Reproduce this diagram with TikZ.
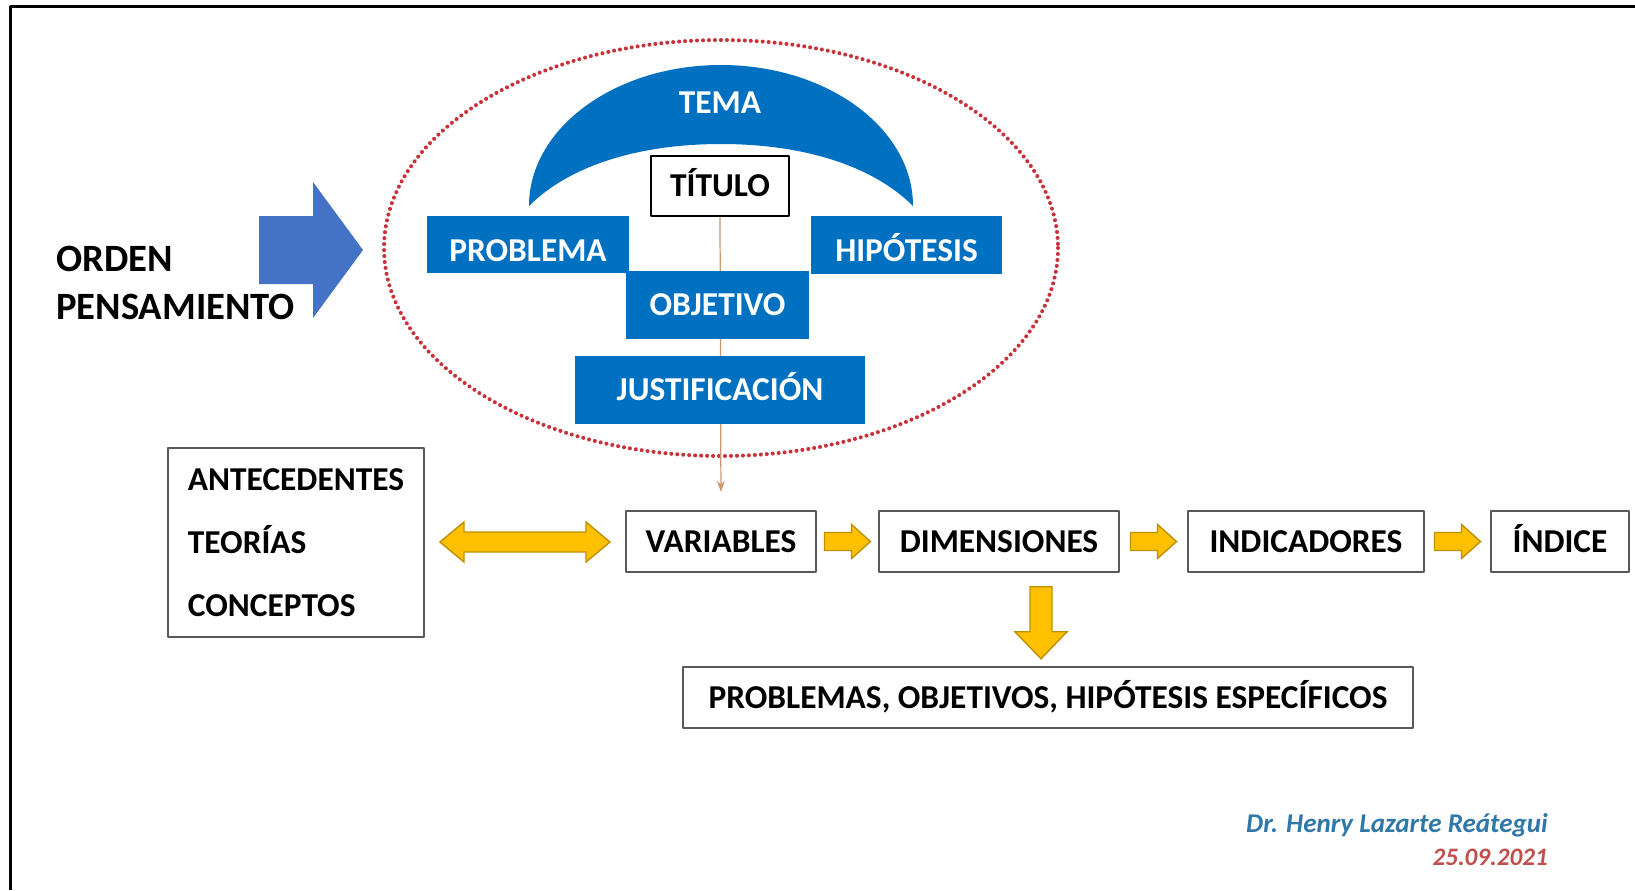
\documentclass[tikz,border=0pt]{standalone}
\usepackage{fontspec}
\setmainfont{Carlito}
\usetikzlibrary{arrows.meta,calc}
\definecolor{azul}{HTML}{0070C0}
\definecolor{azulflecha}{HTML}{4472C4}
\definecolor{oro}{HTML}{FFC000}
\definecolor{ororim}{HTML}{BF9000}
\definecolor{gris}{HTML}{595959}
\definecolor{punto}{HTML}{C8323A}
\definecolor{cafe}{HTML}{C8976A}
\definecolor{firma}{HTML}{2F78A8}
\definecolor{rojofecha}{HTML}{C0504D}

\tikzset{
  bluebox/.style={fill=azul,text=white,inner sep=0pt,text height=12.2pt,text depth=0pt,
    font=\fontsize{19}{22}\selectfont\bfseries},
  whitebox/.style={draw=gris,line width=1.4pt,fill=white,inner sep=0pt,text height=12.2pt,text depth=0pt,
    font=\fontsize{19}{22}\selectfont\bfseries},
  yarrow/.style={fill=oro,draw=ororim,line width=.8pt,line join=miter},
  hflecha/.pic={\draw[yarrow] (-23,-9) -- (4,-9) -- (4,-17) -- (23,0) -- (4,17) -- (4,9) -- (-23,9) -- cycle;},
  vflecha/.pic={\draw[yarrow] (-11,-72) -- (11,-72) -- (11,-27) -- (26,-27) -- (0,0) -- (-26,-27) -- (-11,-27) -- cycle;},
  dflecha/.pic={\draw[yarrow] (-85,0) -- (-61,-20) -- (-61,-10) -- (61,-10) -- (61,-20) -- (85,0)
    -- (61,20) -- (61,10) -- (-61,10) -- (-61,20) -- cycle;}
}

\begin{document}
\begin{tikzpicture}[x=0.02cm,y=-0.02cm,line join=round]
  \path[use as bounding box] (0,0) rectangle (1635,890);
  \fill[white] (0,0) rectangle (1635,890);
  \draw[line width=1.5pt] (10.5,890) -- (10.5,6.7) -- (1635,6.7);

  % Dotted ring round the core of the research plan.
  \draw[punto,line width=2.3pt,line cap=round,dash pattern=on 0pt off 3.4pt] (721,248) ellipse (337 and 208);

  % Crescent of the theme.
  \fill[azul] (529,206) arc[start angle=180,end angle=360,x radius=192,y radius=141]
    .. controls (872,165) and (802,144) .. (721,144)
    .. controls (640,144) and (570,165) .. cycle;
  \node[text=white,font=\fontsize{19}{22}\selectfont\bfseries] (tema) at (720,103) {TEMA};

  % Block arrow and its caption on the left.
  \fill[azulflecha] (259,216) -- (313,216) -- (313,182) -- (363,250) -- (313,318) -- (313,284) -- (259,284) -- cycle;
  \node[anchor=west,align=left,font=\fontsize{22}{27}\selectfont\bfseries] (orden) at (50,283) {ORDEN\\PENSAMIENTO};

  \node[whitebox,draw=black,line width=1pt,minimum width=2.76cm,minimum height=1.2cm] (titulo) at (720,186) {TÍTULO};
  \node[whitebox,minimum width=3.8cm,minimum height=1.22cm] (variables) at (721,541.5) {VARIABLES};

  % Thin guide line from the title down to the variables, behind the blue boxes.
  \draw[cafe,line width=.7pt,-{Stealth[length=2.2mm,width=1.6mm]},shorten >=0.36cm] (titulo.south) -- (variables.north);

  \node[bluebox,text height=19pt,minimum width=4.04cm,minimum height=1.14cm] (problema) at (528,244.5) {PROBLEMA};
  \node[bluebox,text height=19pt,minimum width=3.82cm,minimum height=1.16cm] (hipotesis) at (906.5,245) {HIPÓTESIS};
  \node[bluebox,minimum width=3.66cm,minimum height=1.36cm] (objetivo) at (717.5,305) {OBJETIVO};
  \node[bluebox,minimum width=5.8cm,minimum height=1.36cm] (justificacion) at (720,390) {JUSTIFICACIÓN};

  % Chain of the operational terms.
  \node[whitebox,text height=,text depth=,minimum width=5.12cm,minimum height=3.78cm,align=left,
    font=\fontsize{19}{36}\selectfont\bfseries] (antecedentes) at (296,542.5) {ANTECEDENTES\\TEORÍAS\\CONCEPTOS};
  \node[whitebox,minimum width=4.8cm,minimum height=1.22cm] (dimensiones) at (999,541.5) {DIMENSIONES};
  \node[whitebox,minimum width=4.72cm,minimum height=1.22cm] (indicadores) at (1306,541.5) {INDICADORES};
  \node[whitebox,minimum width=2.76cm,minimum height=1.22cm] (indice) at (1560,541.5) {ÍNDICE};
  \node[whitebox,minimum width=14.6cm,minimum height=1.22cm] (especificos) at (1048,697.5) {PROBLEMAS, OBJETIVOS, HIPÓTESIS ESPECÍFICOS};

  \pic at ($(antecedentes.east)!.5!(variables.west)$) {dflecha};
  \pic at ($(variables.east)!.5!(dimensiones.west)$) {hflecha};
  \pic at ($(dimensiones.east)!.5!(indicadores.west)$) {hflecha};
  \pic at ($(indicadores.east)!.5!(indice.west)$) {hflecha};
  \pic at ($(especificos.north)+(-7,-7)$) {vflecha};

  % Signature.
  \node[anchor=east,text=firma,font=\fontsize{15.4}{18}\selectfont\bfseries\itshape] (autor) at (1554,825) {Dr. Henry Lazarte Reátegui};
  \node[anchor=east,text=rojofecha,font=\fontsize{14.3}{17}\selectfont\bfseries\itshape] (dia) at (1554,857) {25.09.2021};
\end{tikzpicture}
\end{document}
